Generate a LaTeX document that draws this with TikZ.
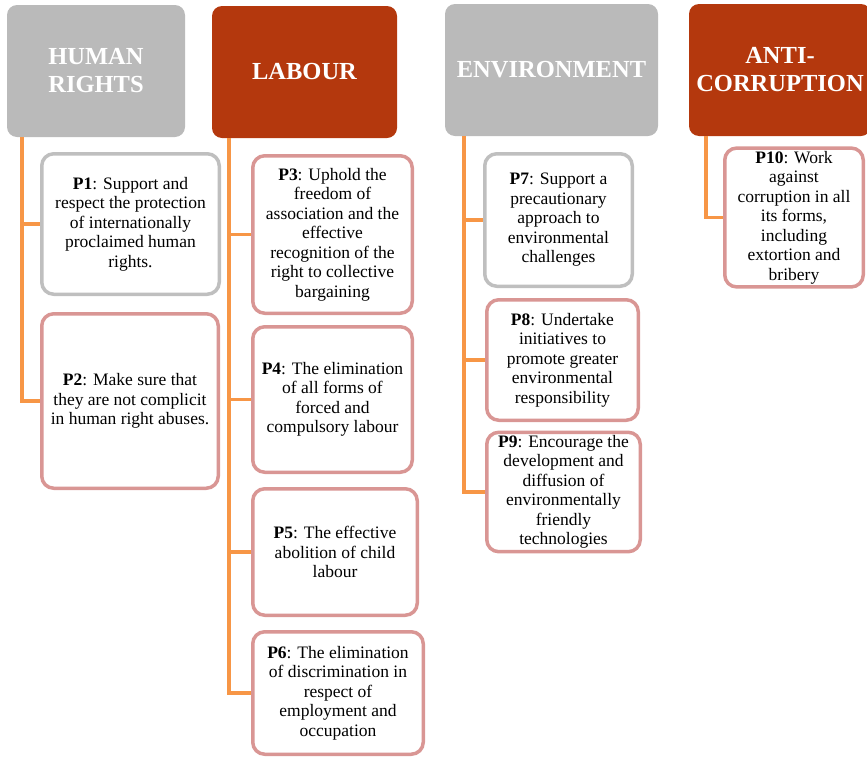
\documentclass[tikz,border=0pt]{standalone}
\usepackage{fontspec}
\setmainfont{Liberation Serif}
\usepackage{tikz}
\usetikzlibrary{positioning}
\usepackage{xcolor}
\definecolor{headgray}{RGB}{186,186,186}
\definecolor{headred}{RGB}{180,56,13}
\definecolor{boxgray}{RGB}{191,191,191}
\definecolor{boxpink}{RGB}{217,150,148}
\definecolor{linkorange}{RGB}{247,150,70}

\tikzset{
	head/.style={inner sep = 3pt, rounded corners=10pt, text=white, align=center,
		font=\fontsize{24.5}{28}\selectfont\bfseries},
	pbox/.style={inner sep = 3pt, draw=boxpink, line width=3.5pt, rounded corners=12pt,
		fill=white, align=center, font=\fontsize{17.5}{19.5}\selectfont},
	link/.style={draw=linkorange, line width=3.5pt}
}

\begin{document}
\begin{tikzpicture}[x=1pt, y=-1pt]
		\useasboundingbox (0,0) rectangle (867,758);
		\clip (0,0) rectangle (867,758);
		
		\draw (96,71) node[head, fill=headgray, minimum width=178pt, minimum height=132pt] (hr) {HUMAN\\RIGHTS}
		(304.5,72) node[head, fill=headred, minimum width=185pt, minimum height=132pt] (lab) {LABOUR}
		(551.5,70) node[head, fill=headgray, minimum width=213pt, minimum height=132pt] (env) {ENVIRONMENT}
		(780,70) node[head, fill=headred, minimum width=182pt, minimum height=132pt] (anti) {ANTI-\\CORRUPTION};
		
		\draw[link] ([xshift=15pt]hr.south west) |- (130,224);
		\draw[link] ([xshift=15pt]hr.south west) |- (130,401);
		\draw[link] ([xshift=17pt]lab.south west) |- (332,234.5);
		\draw[link] ([xshift=17pt]lab.south west) |- (332,399.5);
		\draw[link] ([xshift=17pt]lab.south west) |- (332,552);
		\draw[link] ([xshift=17pt]lab.south west) |- (332,693);
		\draw[link] ([xshift=19pt]env.south west) |- (558,220);
		\draw[link] ([xshift=19pt]env.south west) |- (558,360);
		\draw[link] ([xshift=19pt]env.south west) |- (558,492);
		\draw[link] ([xshift=17pt]anti.south west) |- (794,217.5);
		
		\draw (130.5,224) node[pbox, draw=boxgray, minimum width=177.5pt, minimum height=140.5pt] (p1) {\textbf{P1}: Support and\\respect the protection\\of internationally\\proclaimed human\\rights.}
		(130,401) node[pbox, minimum width=176.5pt, minimum height=174.5pt] (p2) {\textbf{P2}: Make sure that\\they are not complicit\\in human right abuses.}
		(332.5,234.5) node[pbox, minimum width=159.5pt, minimum height=157.5pt] (p3) {\textbf{P3}: Uphold the\\freedom of\\association and the\\effective\\recognition of the\\right to collective\\bargaining}
		(332.5,399.5) node[pbox, minimum width=159.5pt, minimum height=145.5pt] (p4) {\textbf{P4}: The elimination\\of all forms of\\forced and\\compulsory labour}
		(335,552) node[pbox, minimum width=164.5pt, minimum height=126.5pt] (p5) {\textbf{P5}: The effective\\abolition of child\\labour}
		(338,693) node[pbox, minimum width=170.5pt, minimum height=122.5pt] (p6) {\textbf{P6}: The elimination\\of discrimination in\\respect of\\employment and\\occupation}
		(558.5,220) node[pbox, draw=boxgray, minimum width=147.5pt, minimum height=132.5pt] (p7) {\textbf{P7}: Support a\\precautionary\\approach to\\environmental\\challenges}
		(562.5,360) node[pbox, minimum width=151.5pt, minimum height=120.5pt] (p8) {\textbf{P8}: Undertake\\initiatives to\\promote greater\\environmental\\responsibility}
		(563.5,492) node[pbox, minimum width=153.5pt, minimum height=112.5pt] (p9) {\textbf{P9}: Encourage the\\development and\\diffusion of\\environmentally\\friendly\\technologies}
		(794,217.5) node[pbox, minimum width=138.5pt, minimum height=131.5pt] (p10) {\textbf{P10}: Work\\against\\corruption in all\\its forms,\\including\\extortion and\\bribery};
	\end{tikzpicture}
\end{document}
